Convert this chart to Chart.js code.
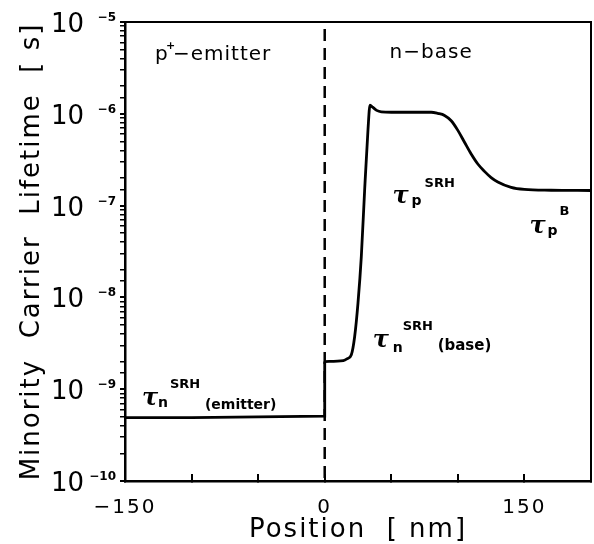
<!DOCTYPE html>
<html>
<head>
<meta charset="utf-8">
<script src="https://cdn.jsdelivr.net/npm/chart.js@4.4.0/dist/chart.umd.min.js"></script>
<style>
  html, body { margin: 0; padding: 0; background: #fff; }
  canvas { display: block; }
</style>
</head>
<body>
<canvas id="lifetimeChart" width="594" height="544"></canvas>
<script>
// Position (nm) and minority carrier lifetime (s) -- emitter side incl. the step at the junction
const emitterPositions = [-150, -100, -50, 0, 0];
const emitterLifetimes = [4.9e-10, 4.9e-10, 5.0e-10, 5.1e-10, 2.0e-9];

// base side
const basePositions = [0, 14, 17, 20, 22.5, 25, 27.5, 30, 32.5, 34, 36, 39, 42.5, 50, 60, 70, 80,
  85, 90, 95, 100, 105, 110, 115, 120, 125, 130, 140, 150, 170, 200];
const baseLifetimes = [2.0e-9, 2.05e-9, 2.15e-9, 2.37e-9, 3.75e-9, 8.7e-9, 2.8e-8,
  1.49e-7, 6.7e-7, 1.24e-6, 1.18e-6, 1.09e-6, 1.05e-6, 1.04e-6, 1.04e-6, 1.04e-6, 1.04e-6,
  1.01e-6, 9.6e-7, 8.4e-7, 6.6e-7, 4.9e-7, 3.65e-7, 2.84e-7, 2.36e-7, 2.02e-7, 1.81e-7, 1.58e-7, 1.50e-7, 1.47e-7, 1.46e-7];

// metallurgical junction (dashed)
const junctionX = [0, 0];
const junctionY = [1e-5, 1e-10];

// axis labels
const yDecades = [-10, -9, -8, -7, -6, -5];
const xLabels = [-150, 0, 150];

const FONT = '"DejaVu Sans", sans-serif';
const TAU = 'italic bold 24px "DejaVu Serif", serif';

// text inside the plot, anchored in data units
const annotations = [
  { x: -127.5, y: 3.9e-6, spacing: '1px', runs: [
    { text: 'p', dx: 0, dy: 0, font: '20px ' + FONT },
    { text: '+', dx: 11, dy: -11, font: 'bold 11px ' + FONT },
    { text: '−emitter', dx: 18, dy: 0, font: '20px ' + FONT }] },
  { x: 48.75, y: 4.1e-6, spacing: '1px', runs: [
    { text: 'n−base', dx: 0, dy: 0, font: '20px ' + FONT }] },
  { x: -137.3, y: 6.7e-10, runs: [
    { text: 'τ', dx: 0, dy: 0, font: TAU },
    { text: 'n', dx: 16, dy: 2, font: 'bold 14px ' + FONT },
    { text: 'SRH', dx: 28, dy: -17, font: 'bold 13px ' + FONT },
    { text: '(emitter)', dx: 63, dy: 4, font: 'bold 14px ' + FONT }] },
  { x: 36, y: 2.89e-9, runs: [
    { text: 'τ', dx: 0, dy: 0, font: TAU },
    { text: 'n', dx: 20, dy: 5, font: 'bold 14px ' + FONT },
    { text: 'SRH', dx: 30, dy: -17, font: 'bold 13px ' + FONT },
    { text: '(base)', dx: 65, dy: 3, font: 'bold 15px ' + FONT }] },
  { x: 51, y: 1.08e-7, runs: [
    { text: 'τ', dx: 0, dy: 0, font: TAU },
    { text: 'p', dx: 19, dy: 2, font: 'bold 14px ' + FONT },
    { text: 'SRH', dx: 32, dy: -16, font: 'bold 13px ' + FONT }] },
  { x: 153.75, y: 5.06e-8, runs: [
    { text: 'τ', dx: 0, dy: 0, font: TAU },
    { text: 'p', dx: 18, dy: 2, font: 'bold 14px ' + FONT },
    { text: 'B', dx: 30, dy: -18, font: 'bold 13px ' + FONT }] }
];

const isDecade = v => Math.abs(Math.log10(v) - Math.round(Math.log10(v))) < 1e-6;
const toPoints = (xs, ys) => xs.map((p, i) => ({ x: p, y: ys[i] }));

const plotDecor = {
  id: 'plotDecor',
  beforeDraw(chart) {
    chart.ctx.letterSpacing = '2px';
  },
  afterDraw(chart) {
    const { ctx, chartArea: a, scales: { x, y } } = chart;
    ctx.save();
    ctx.letterSpacing = '0px';
    // box: top and right edges
    ctx.strokeStyle = '#000';
    ctx.lineWidth = 2;
    ctx.beginPath();
    ctx.moveTo(a.left, a.top);
    ctx.lineTo(a.right, a.top);
    ctx.lineTo(a.right, a.bottom);
    ctx.stroke();

    // y tick labels 10^n
    ctx.fillStyle = '#000';
    ctx.textAlign = 'right';
    ctx.textBaseline = 'alphabetic';
    yDecades.forEach(e => {
      const py = y.getPixelForValue(Math.pow(10, e));
      ctx.font = '26px ' + FONT;
      ctx.fillText('10', y.right - 41, py + 10);
      ctx.font = 'bold 12px ' + FONT;
      ctx.fillText('−' + Math.abs(e), y.right - 9, py - 1);
    });

    // annotations
    ctx.textAlign = 'left';
    annotations.forEach(an => {
      const px = x.getPixelForValue(an.x);
      const py = y.getPixelForValue(an.y);
      ctx.letterSpacing = an.spacing || '0px';
      an.runs.forEach(r => {
        ctx.font = r.font;
        ctx.fillText(r.text, px + r.dx, py + r.dy);
      });
    });
    ctx.restore();
    ctx.letterSpacing = '0px';
  }
};

new Chart(document.getElementById('lifetimeChart'), {
  type: 'scatter',
  data: {
    datasets: [
      {
        label: 'Emitter',
        data: toPoints(emitterPositions, emitterLifetimes),
        showLine: true,
        borderColor: '#000',
        borderWidth: 2.8,
        pointRadius: 0,
        tension: 0,
        order: 0
      },
      {
        label: 'Base',
        data: toPoints(basePositions, baseLifetimes),
        showLine: true,
        borderColor: '#000',
        borderWidth: 2.8,
        pointRadius: 0,
        cubicInterpolationMode: 'monotone',
        order: 0
      },
      {
        label: 'Junction',
        data: toPoints(junctionX, junctionY),
        showLine: true,
        borderColor: '#000',
        borderWidth: 2.5,
        borderDash: [12, 7],
        borderDashOffset: 12,
        pointRadius: 0,
        order: 1
      }
    ]
  },
  options: {
    responsive: false,
    animation: false,
    layout: { padding: { top: 22, right: 3, left: 0, bottom: 0 } },
    plugins: {
      legend: { display: false },
      tooltip: { enabled: false }
    },
    scales: {
      x: {
        type: 'linear',
        min: -150,
        max: 200,
        afterFit: s => { s.height = 63; s.paddingLeft = 0; s.paddingRight = 0; },
        ticks: {
          stepSize: 50,
          autoSkip: false,
          maxRotation: 0,
          padding: 22,
          color: '#000',
          font: { family: 'DejaVu Sans', size: 20 },
          callback: v => xLabels.includes(v) ? (v < 0 ? '−' + Math.abs(v) : String(v)) : ''
        },
        grid: { drawOnChartArea: false, tickLength: -7, color: '#000', lineWidth: 2 },
        border: { color: '#000', width: 2.5 },
        title: {
          display: true,
          text: 'Position  [ nm]',
          color: '#000',
          font: { family: 'DejaVu Sans', size: 26 },
          padding: { top: 0, bottom: -2 }
        }
      },
      y: {
        type: 'logarithmic',
        min: 1e-10,
        max: 1e-5,
        afterFit: s => { s.width = 125; },
        ticks: { display: false },
        grid: {
          drawOnChartArea: false,
          tickLength: 5,
          color: '#000',
          lineWidth: c => (c.tick && isDecade(c.tick.value)) ? 2 : 1.5
        },
        border: { color: '#000', width: 2.5 },
        title: {
          display: true,
          text: 'Minority  Carrier  Lifetime  [ s]',
          color: '#000',
          font: { family: 'DejaVu Sans', size: 26 },
          padding: { top: 17, bottom: 0 }
        }
      }
    }
  },
  plugins: [plotDecor]
});
</script>
</body>
</html>
